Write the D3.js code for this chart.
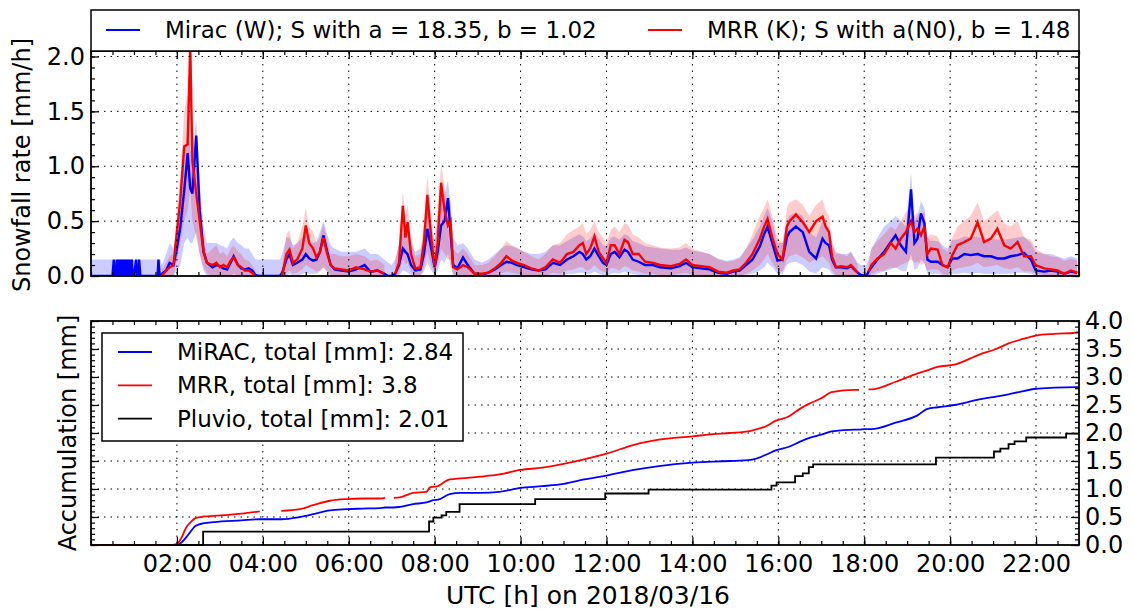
<!DOCTYPE html>
<html>
<head>
<meta charset="utf-8">
<script src="https://cdn.jsdelivr.net/npm/d3@7"></script>
<style>
    body { margin: 0; background: #fff; }
    text { font-family: "DejaVu Sans", sans-serif; }
</style>
</head>
<body>
<script>
// ---- snowfall rate (top panel), time in hours UTC ----
const rateTime = [
    0, 0.25, 0.5, 0.53, 0.55, 0.58, 0.6, 0.63, 0.65, 0.68, 0.7, 0.72, 0.75, 0.77, 0.8, 0.82, 0.85, 0.87, 0.9, 0.92, 0.95, 0.97, 1.0, 1.05, 1.07, 1.1, 1.12, 1.15, 1.17, 1.3, 1.55, 1.57, 1.6, 1.62,
    1.65, 1.75, 1.83, 1.92, 2.0, 2.08, 2.17, 2.25, 2.31, 2.36, 2.45, 2.53, 2.62, 2.7, 2.83, 2.92, 3.0, 3.08, 3.17, 3.25, 3.32, 3.42, 3.5, 3.58, 3.67, 3.75, 3.83,
    3.9, 4.1, 4.4,
    4.45, 4.55, 4.62, 4.7, 4.8, 4.92, 5.0, 5.08, 5.17, 5.25, 5.33, 5.41, 5.5, 5.58, 5.67, 5.83, 6.0, 6.17, 6.37, 6.5, 6.67, 6.83,
    6.92, 7.0,
    7.08, 7.17, 7.26, 7.32, 7.37, 7.45, 7.55, 7.67, 7.75, 7.83, 7.92, 8.0, 8.07, 8.15, 8.23, 8.31, 8.37, 8.43, 8.53, 8.66, 8.77, 8.93, 9.1, 9.25, 9.4, 9.55, 9.67, 9.8, 9.92, 10.08, 10.25, 10.42, 10.58, 10.75, 10.92,
    11.08, 11.23, 11.37, 11.45, 11.53, 11.62, 11.72, 11.82, 11.92, 12.0, 12.1, 12.19, 12.3, 12.42, 12.5, 12.61, 12.75, 12.9, 13.08, 13.25, 13.5, 13.7, 13.85, 14.0, 14.2, 14.4, 14.6, 14.8, 14.95, 15.1, 15.25, 15.4,
    15.57, 15.67, 15.75, 15.86, 15.98, 16.1, 16.2, 16.26, 16.41, 16.57, 16.72, 16.88, 17.03, 17.1, 17.18, 17.25, 17.34, 17.46, 17.6, 17.69, 17.85,
    17.92, 18.05,
    18.1, 18.17, 18.31, 18.46, 18.62, 18.73, 18.85, 18.97, 19.09, 19.17, 19.24, 19.32, 19.4, 19.47, 19.55, 19.71, 19.82, 19.94, 20.05, 20.17, 20.33, 20.48, 20.64, 20.79, 20.95, 21.1, 21.26, 21.41, 21.57, 21.72, 21.88, 21.99, 22.19, 22.35, 22.5, 22.66, 22.81, 22.96
];
const miracRate = [
    0, 0, 0, .15, 0, 0, .15, 0, .15, 0, .15, 0, .15, 0, .15, 0, .15, 0, .15, 0, .15, 0, 0, .15, 0, 0, .15, 0, 0, 0, 0, .15, 0, 0,
    .02, .05, .12, .1, .25, .45, .78, 1.12, .8, .75, 1.28, .6, .22, .12, .08, .1, .09, .07, .06, .12, .18, .1, .07, .06, .07, .05, .01,
    0, 0, 0,
    .03, .15, .2, .1, .12, .15, .2, .16, .14, .15, .22, .37, .22, .1, .06, .05, .04, .06, .1, .04, .05, .02,
    0, 0,
    .02, .1, .25, .22, .2, .1, .05, .06, .2, .43, .25, .08, .22, .46, .5, .71, .4, .1, .07, .17, .1, .02, .01, .03, .06, .1, .13, .12, .1, .08, .06, .05, .06, .12, .1,
    .15, .18, .22, .2, .15, .18, .25, .18, .12, .1, .2, .22, .17, .24, .22, .15, .13, .1, .1, .08, .07, .09, .12, .08, .07, .06, .03, .02, .04, .05, .1, .15,
    .27, .38, .45, .3, .14, .15, .35, .4, .45, .4, .22, .16, .34, .3, .28, .15, .08, .08, .07, .09, .03,
    .01, 0,
    .04, .08, .15, .22, .31, .37, .28, .22, .79, .3, .34, .57, .48, .15, .13, .13, .1, .08, .16, .16, .2, .19, .2, .18, .18, .16, .16, .18, .19, .21, .15, .05, .04, .05, .04, .02, .04, .03
];
const mrrRate = [
    null, null, null, null, null, null, null, null, null, null, null, null, null, null, null, null, null, null, null, null, null, null, null, null, null, null, null, null, null, null, null, null, null, null,
    0, .05, .08, .1, .4, .7, 1.18, 1.2, 2.1, 1.05, .75, .5, .22, .12, .1, .12, .08, .1, .08, .14, .17, .1, .08, .05, .05, .03, 0,
    null, null, null,
    0, .2, .24, .12, .15, .25, .46, .3, .25, .17, .22, .35, .2, .1, .07, .06, .05, .08, .06, .04, .05, .02,
    null, null,
    .02, .12, .64, .35, .49, .2, .07, .08, .3, .74, .35, .08, .3, .85, .6, .46, .5, .08, .06, .1, .08, .02, .02, .03, .07, .12, .18, .14, .12, .1, .07, .05, .08, .15, .12,
    .2, .22, .28, .3, .2, .25, .36, .22, .16, .12, .28, .28, .2, .33, .31, .2, .2, .13, .12, .1, .09, .11, .15, .1, .09, .08, .04, .03, .05, .06, .12, .2,
    .34, .45, .52, .35, .2, .15, .45, .5, .56, .49, .4, .5, .54, .45, .4, .18, .08, .09, .08, .1, .03,
    null, null,
    .04, .1, .16, .2, .3, .25, .34, .4, .5, .4, .43, .37, .45, .2, .25, .24, .1, .08, .19, .28, .31, .34, .49, .31, .34, .43, .28, .25, .31, .18, .18, .1, .07, .06, .05, .02, .05, .03
];
const miracLow = [
    0, 0, 0, 0, 0, 0, 0, 0, 0, 0, 0, 0, 0, 0, 0, 0, 0, 0, 0, 0, 0, 0, 0, 0, 0, 0, 0, 0, 0, 0, 0, 0, 0, 0,
    0, 0, 0, 0, .05, .1, .3, .35, .3, .3, .4, .2, .05, 0, 0, 0, 0, 0, 0, 0, .02, 0, 0, 0, 0, 0, 0,
    0, 0, 0,
    0, 0, .02, 0, 0, .02, .03, .02, .02, .02, .04, .08, .04, 0, 0, 0, 0, 0, 0, 0, 0, 0,
    0, 0,
    0, 0, .05, .04, .03, .01, 0, 0, .04, .12, .05, .01, .05, .15, .12, .2, .1, 0, 0, 0, 0, 0, 0, 0, 0, 0, .01, .01, 0, 0, 0, 0, 0, .01, 0,
    .02, .02, .03, .03, .02, .02, .04, .02, .01, 0, .02, .03, .02, .04, .03, .02, .01, 0, 0, 0, 0, 0, .01, 0, 0, 0, 0, 0, 0, 0, .01, .02,
    .05, .08, .12, .08, .02, .02, .1, .12, .13, .1, .04, .02, .08, .07, .06, .02, 0, 0, 0, 0, 0,
    0, 0,
    0, 0, .02, .04, .06, .08, .05, .04, .2, .06, .07, .15, .12, .02, .02, .02, .01, 0, .02, .02, .03, .02, .03, .02, .02, .02, .02, .02, .03, .03, .02, 0, 0, 0, 0, 0, 0, 0
];
const miracHigh = [
    .15, .15, .15, .15, .15, .15, .15, .15, .15, .15, .15, .15, .15, .15, .15, .15, .15, .15, .15, .15, .15, .15, .15, .15, .15, .15, .15, .15, .15, .15, .15, .15, .15, .15,
    .1, .2, .3, .25, .45, .75, 1.1, 1.35, 1.15, 1.1, 1.43, .85, .45, .3, .3, .3, .28, .27, .25, .32, .35, .3, .28, .25, .25, .2, .15,
    .15, .15, .15,
    .2, .35, .35, .28, .3, .35, .38, .33, .3, .32, .4, .5, .38, .28, .25, .22, .22, .22, .25, .2, .2, .15,
    .12, .1,
    .15, .28, .4, .38, .35, .28, .22, .25, .38, .6, .45, .3, .55, .7, .75, .87, .65, .35, .28, .3, .25, .15, .12, .15, .2, .25, .28, .27, .25, .22, .2, .2, .22, .28, .28,
    .32, .35, .38, .36, .32, .34, .4, .34, .28, .27, .35, .36, .33, .38, .37, .32, .3, .27, .26, .25, .24, .24, .26, .23, .22, .2, .16, .14, .15, .17, .25, .33,
    .45, .55, .62, .5, .3, .3, .5, .55, .58, .55, .4, .35, .5, .46, .44, .3, .22, .2, .2, .22, .12,
    .1, .1,
    .15, .25, .35, .45, .5, .55, .5, .45, .94, .5, .55, .68, .62, .35, .32, .32, .28, .25, .33, .33, .36, .35, .36, .34, .34, .33, .33, .34, .35, .36, .3, .22, .2, .2, .18, .16, .18, .16
];
const mrrLow = [
    null, null, null, null, null, null, null, null, null, null, null, null, null, null, null, null, null, null, null, null, null, null, null, null, null, null, null, null, null, null, null, null, null, null,
    0, 0, 0, 0, .15, .3, .5, .6, .8, .5, .35, .2, .08, .03, 0, 0, 0, 0, 0, 0, 0, 0, 0, 0, 0, 0, 0,
    null, null, null,
    0, .03, .05, .02, .03, .06, .1, .08, .06, .04, .05, .08, .04, .01, 0, 0, 0, 0, 0, 0, 0, 0,
    null, null,
    0, .02, .15, .1, .12, .04, 0, 0, .08, .22, .1, .02, .1, .25, .2, .15, .15, .02, 0, .01, 0, 0, 0, 0, 0, .02, .04, .03, .02, .01, 0, 0, 0, .03, .02,
    .05, .06, .08, .08, .05, .06, .1, .06, .04, .03, .07, .07, .05, .09, .08, .05, .04, .02, .02, .01, .01, .02, .03, .01, .01, 0, 0, 0, 0, 0, .02, .05,
    .1, .15, .2, .12, .05, .04, .15, .18, .2, .17, .12, .15, .18, .15, .12, .05, .01, .01, 0, .01, 0,
    null, null,
    0, .02, .04, .05, .08, .07, .1, .12, .15, .12, .13, .1, .12, .05, .06, .06, .02, .01, .05, .07, .08, .09, .12, .08, .09, .1, .07, .06, .08, .04, .04, .02, .01, 0, 0, 0, 0, 0
];
const mrrHigh = [
    null, null, null, null, null, null, null, null, null, null, null, null, null, null, null, null, null, null, null, null, null, null, null, null, null, null, null, null, null, null, null, null, null, null,
    .05, .12, .18, .2, .6, .9, 1.5, 1.65, 2.1, 1.45, 1.0, .7, .35, .2, .25, .28, .2, .22, .18, .25, .28, .22, .2, .15, .14, .1, .05,
    null, null, null,
    .08, .38, .42, .25, .3, .45, .62, .45, .4, .3, .35, .48, .32, .2, .2, .18, .18, .2, .18, .14, .15, .1,
    null, null,
    .12, .3, .77, .55, .65, .35, .18, .2, .5, .92, .55, .25, .6, 1.02, .8, .65, .7, .25, .2, .25, .2, .1, .1, .12, .18, .25, .32, .28, .26, .22, .18, .15, .2, .28, .3,
    .38, .42, .45, .48, .38, .42, .5, .4, .35, .3, .42, .45, .4, .48, .47, .38, .35, .3, .28, .26, .25, .26, .3, .25, .22, .2, .15, .13, .14, .16, .25, .38,
    .55, .62, .7, .55, .35, .3, .62, .67, .7, .65, .55, .65, .7, .6, .55, .3, .2, .2, .18, .22, .1,
    null, null,
    .12, .25, .32, .38, .45, .42, .5, .58, .65, .55, .58, .52, .6, .35, .38, .36, .25, .22, .35, .45, .5, .55, .67, .5, .55, .6, .48, .45, .5, .35, .33, .25, .2, .18, .17, .14, .16, .14
];

// ---- accumulation (bottom panel) ----
const accTime = [0, 1.9, 2.0, 2.1, 2.23, 2.3, 2.43, 2.63, 2.86, 3.5, 3.93, 4.05, 4.4, 4.43, 4.86, 5.17, 5.56, 5.95, 6.33, 6.72, 6.85, 6.95, 7.05, 7.19, 7.5, 7.81, 7.89, 7.97, 8.08, 8.12, 8.35, 8.6, 9.05, 9.51, 10.0, 10.5, 11.0, 11.48, 12.0, 12.64, 13.22, 14.0, 14.48, 14.87, 15.36, 15.74, 15.94, 16.23, 16.52, 16.71, 17.0, 17.24, 17.78, 17.88, 18.0, 18.1, 18.16, 18.75, 19.23, 19.47, 19.71, 20.1, 20.68, 21.07, 21.36, 21.65, 22.0, 22.43, 22.91, 23.0];
const miracAcc = [0, 0, 0, .04, .15, .22, .34, .39, .41, .44, .46, .46, .46, .46, .5, .55, .62, .64, .65, .66, .67, .67, .67, .68, .73, .76, .78, .8, .81, .82, .91, .93, .93, .95, 1.02, 1.05, 1.09, 1.17, 1.24, 1.34, 1.41, 1.47, 1.49, 1.5, 1.52, 1.62, 1.69, 1.75, 1.85, 1.91, 1.97, 2.03, 2.06, 2.06, 2.07, 2.07, 2.07, 2.19, 2.31, 2.43, 2.46, 2.5, 2.6, 2.65, 2.69, 2.74, 2.79, 2.81, 2.82, 2.82];
const mrrAcc = [0, 0, .02, .12, .33, .39, .48, .51, .52, .56, .6, null, null, .61, .64, .71, .79, .82, .83, .83, .84, null, .84, .85, .93, .95, 1.03, 1.04, 1.05, 1.07, 1.17, 1.19, 1.22, 1.26, 1.34, 1.38, 1.45, 1.53, 1.63, 1.79, 1.88, 1.94, 1.98, 2.0, 2.04, 2.13, 2.22, 2.29, 2.44, 2.52, 2.62, 2.73, 2.77, 2.77, null, 2.78, 2.78, 2.92, 3.06, 3.12, 3.18, 3.22, 3.4, 3.5, 3.6, 3.67, 3.74, 3.77, 3.79, 3.8];
const pluvioTime = [0, 2.61, 7.87, 7.97, 8.16, 8.27, 8.58, 10.34, 11.97, 12.98, 15.84, 15.96, 16.39, 16.57, 16.71, 16.81, 19.67, 21.02, 21.17, 21.36, 21.5, 21.77, 22.7, 23.0];
const pluvioAcc = [0, .24, .42, .49, .53, .59, .73, .82, .92, .99, 1.06, 1.12, 1.23, 1.28, 1.39, 1.44, 1.56, 1.67, 1.72, 1.8, 1.85, 1.92, 1.99, 1.99];

const topLegend = ['Mirac (W); S with a = 18.35, b = 1.02', 'MRR (K); S with a(N0), b = 1.48'];
const bottomLegend = ['MiRAC, total [mm]: 2.84', 'MRR, total [mm]: 3.8', 'Pluvio, total [mm]: 2.01'];
const hourTicks = [2, 4, 6, 8, 10, 12, 14, 16, 18, 20, 22];

const svg = d3.select('body').append('svg')
    .attr('width', 1133)
    .attr('height', 610);

const x = d3.scaleLinear().domain([0, 23]).range([91, 1079]);
const yRate = d3.scaleLinear().domain([0, 2.05]).range([276, 51]);
const yAcc = d3.scaleLinear().domain([0, 4]).range([545, 321]);

const hourFmt = h => `${String(h).padStart(2, '0')}:00`;
const minorX = d3.range(0, 47).map(i => i / 2);

function addAxis(orient, scale, pos, values, size, fmt, pad) {
    const make = { left: d3.axisLeft, right: d3.axisRight, top: d3.axisTop, bottom: d3.axisBottom }[orient];
    const axis = make(scale).tickValues(values)
        .tickSizeInner(-size).tickSizeOuter(0).tickPadding(pad || 6)
        .tickFormat(fmt || '');
    const vertical = orient === 'left' || orient === 'right';
    const g = svg.append('g')
        .attr('transform', vertical ? `translate(${pos},0)` : `translate(0,${pos})`)
        .call(axis);
    g.select('.domain').remove();
    g.selectAll('line').attr('stroke', '#000').attr('stroke-width', 1.2);
    g.selectAll('text').attr('fill', '#000').attr('font-size', 24).attr('font-family', 'DejaVu Sans');
    return g;
}

function addGrid(y, yValues, yTop, yBottom) {
    const g = svg.append('g')
        .attr('stroke', '#000').attr('stroke-width', 1)
        .attr('stroke-dasharray', '1.5,5');
    g.selectAll('.gx').data(hourTicks).join('line')
        .attr('x1', d => x(d)).attr('x2', d => x(d))
        .attr('y1', yTop).attr('y2', yBottom);
    g.selectAll('.gy').data(yValues).join('line')
        .attr('x1', 91).attr('x2', 1079)
        .attr('y1', d => y(d)).attr('y2', d => y(d));
}

function frame(yTop, yBottom) {
    svg.append('rect')
        .attr('x', 91).attr('y', yTop)
        .attr('width', 988).attr('height', yBottom - yTop)
        .attr('fill', 'none').attr('stroke', '#000').attr('stroke-width', 1.8);
}

/*
 * Top panel: snowfall rate
 */

const rows = rateTime.map((t, i) => ({
    t,
    mi: miracRate[i], mr: mrrRate[i],
    miLo: miracLow[i], miHi: miracHigh[i],
    mrLo: mrrLow[i], mrHi: mrrHigh[i]
}));

svg.append('clipPath').attr('id', 'clipTop')
    .append('rect').attr('x', 91).attr('y', 51).attr('width', 988).attr('height', 225);

const pTop = svg.append('g').attr('clip-path', 'url(#clipTop)');

pTop.append('path').datum(rows)
    .attr('fill', 'rgba(0,0,255,0.2)')
    .attr('d', d3.area().defined(d => d.miHi != null)
        .x(d => x(d.t)).y0(d => yRate(d.miLo)).y1(d => yRate(d.miHi)));
pTop.append('path').datum(rows)
    .attr('fill', 'rgba(255,0,0,0.2)')
    .attr('d', d3.area().defined(d => d.mrHi != null)
        .x(d => x(d.t)).y0(d => yRate(d.mrLo)).y1(d => yRate(d.mrHi)));

addGrid(yRate, [0.5, 1.0, 1.5, 2.0], 51, 276);

pTop.append('path').datum(rows)
    .attr('fill', 'none').attr('stroke', '#0000ff').attr('stroke-width', 2.4)
    .attr('d', d3.line().defined(d => d.mi != null).x(d => x(d.t)).y(d => yRate(d.mi)));
pTop.append('path').datum(rows)
    .attr('fill', 'none').attr('stroke', '#ff0000').attr('stroke-width', 2.4)
    .attr('d', d3.line().defined(d => d.mr != null).x(d => x(d.t)).y(d => yRate(d.mr)));

const rateMajor = [0, 0.5, 1.0, 1.5, 2.0];
const rateMinor = d3.range(0, 21).map(i => i / 10);
addAxis('left', yRate, 91, rateMajor, 8, d3.format('.1f'));
addAxis('left', yRate, 91, rateMinor, 4);
addAxis('right', yRate, 1079, rateMajor, 8);
addAxis('right', yRate, 1079, rateMinor, 4);
addAxis('bottom', x, 276, hourTicks, 8);
addAxis('bottom', x, 276, minorX, 4);
addAxis('top', x, 51, hourTicks, 8);
addAxis('top', x, 51, minorX, 4);
frame(51, 276);

// legend above the top panel
const legTop = svg.append('g');
legTop.append('rect')
    .attr('x', 91).attr('y', 10).attr('width', 988).attr('height', 41)
    .attr('fill', '#fff').attr('stroke', '#000').attr('stroke-width', 1.5);
[[106, 165, '#0000ff'], [648, 707, '#ff0000']].forEach(([lx, tx, c], i) => {
    legTop.append('line').attr('x1', lx).attr('x2', lx + 34).attr('y1', 30).attr('y2', 30)
        .attr('stroke', c).attr('stroke-width', 2);
    legTop.append('text').attr('x', tx).attr('y', 30).attr('dy', '0.35em')
        .attr('font-size', 23).text(topLegend[i]);
});

svg.append('text')
    .attr('transform', 'translate(22,165) rotate(-90)')
    .attr('text-anchor', 'middle').attr('dy', '0.35em')
    .attr('font-size', 24).text('Snowfall rate [mm/h]');

/*
 * Bottom panel: accumulation
 */

addGrid(yAcc, [0.5, 1.0, 1.5, 2.0, 2.5, 3.0, 3.5], 321, 545);

const accRows = accTime.map((t, i) => ({ t, mi: miracAcc[i], mr: mrrAcc[i] }));
const pluvioRows = pluvioTime.map((t, i) => ({ t, v: pluvioAcc[i] }));

svg.append('path').datum(pluvioRows)
    .attr('fill', 'none').attr('stroke', '#000').attr('stroke-width', 1.8)
    .attr('d', d3.line().curve(d3.curveStepAfter).x(d => x(d.t)).y(d => yAcc(d.v)));
svg.append('path').datum(accRows)
    .attr('fill', 'none').attr('stroke', '#0000ff').attr('stroke-width', 1.8)
    .attr('d', d3.line().curve(d3.curveMonotoneX).x(d => x(d.t)).y(d => yAcc(d.mi)));
svg.append('path').datum(accRows)
    .attr('fill', 'none').attr('stroke', '#ff0000').attr('stroke-width', 1.8)
    .attr('d', d3.line().curve(d3.curveMonotoneX).defined(d => d.mr != null)
        .x(d => x(d.t)).y(d => yAcc(d.mr)));

const accMajor = [0, 0.5, 1.0, 1.5, 2.0, 2.5, 3.0, 3.5, 4.0];
const accMinor = d3.range(0, 41).map(i => i / 10);
addAxis('right', yAcc, 1079, accMajor, 8, d3.format('.1f'));
addAxis('right', yAcc, 1079, accMinor, 4);
addAxis('left', yAcc, 91, accMajor, 8);
addAxis('left', yAcc, 91, accMinor, 4);
addAxis('bottom', x, 545, hourTicks, 8, hourFmt, 10);
addAxis('bottom', x, 545, minorX, 4);
addAxis('top', x, 321, hourTicks, 8);
addAxis('top', x, 321, minorX, 4);
frame(321, 545);

const legBot = svg.append('g');
legBot.append('rect')
    .attr('x', 102).attr('y', 333).attr('width', 361).attr('height', 108)
    .attr('fill', '#fff').attr('stroke', '#000').attr('stroke-width', 1.5);
['#0000ff', '#ff0000', '#000000'].forEach((c, i) => {
    const ly = 352 + i * 33.3;
    legBot.append('line').attr('x1', 118).attr('x2', 152).attr('y1', ly).attr('y2', ly)
        .attr('stroke', c).attr('stroke-width', 1.8);
    legBot.append('text').attr('x', 177).attr('y', ly).attr('dy', '0.35em')
        .attr('font-size', 23).text(bottomLegend[i]);
});

svg.append('text')
    .attr('transform', 'translate(68,433) rotate(-90)')
    .attr('text-anchor', 'middle').attr('dy', '0.35em')
    .attr('font-size', 24).text('Accumulation [mm]');

svg.append('text')
    .attr('x', 588).attr('y', 595).attr('dy', '0.35em')
    .attr('text-anchor', 'middle')
    .attr('font-size', 25).text('UTC [h] on 2018/03/16');
</script>
</body>
</html>
